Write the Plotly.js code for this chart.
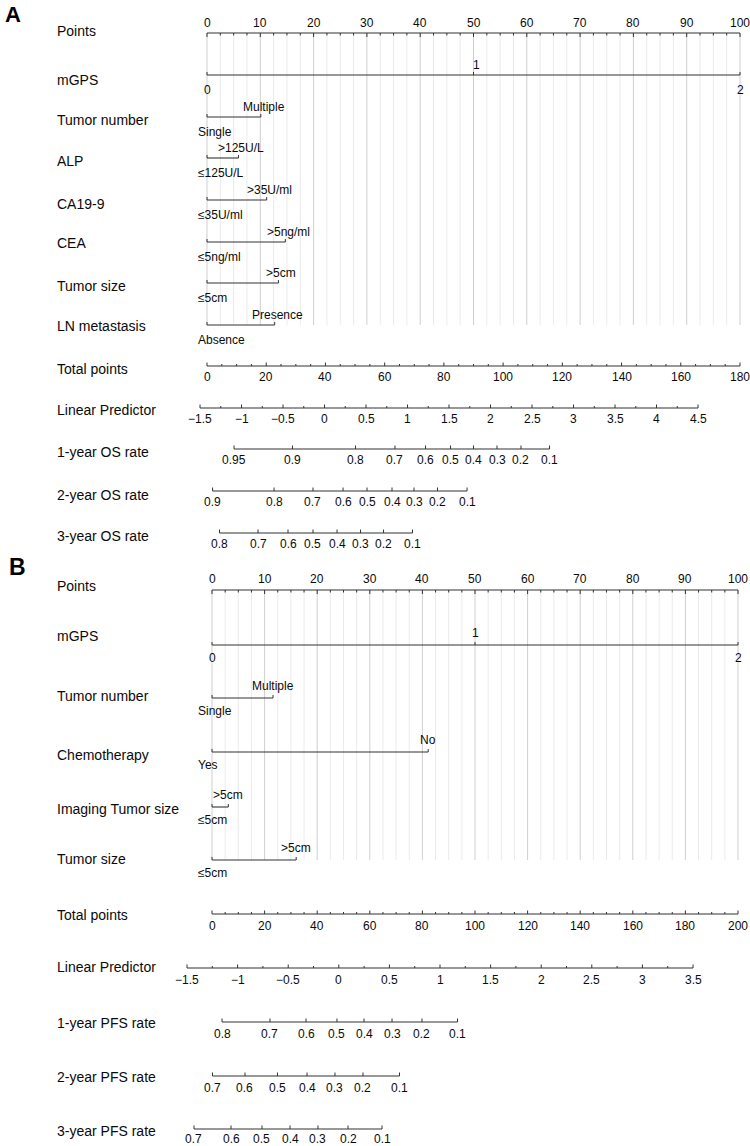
<!DOCTYPE html>
<html><head><meta charset="utf-8">
<script src="https://cdn.plot.ly/plotly-3.0.1.min.js"></script>
<style>html,body{margin:0;padding:0;background:#fff}</style>
</head><body>
<div id="chart" style="width:750px;height:1146px"></div>
<script>
// ================= DATA =================
// ---- Panel A : OS nomogram ----
const pointsTicks = [0,10,20,30,40,50,60,70,80,90,100];
const pointsLabels = ['0','10','20','30','40','50','60','70','80','90','100'];

const mgpsLevels = ['0','1','2'];
const mgpsPointsA = [0,50,100];
const tumorNumberLevels = ['Single','Multiple'];
const tumorNumberPointsA = [0,10.1];
const alpLevels = ['≤125U/L','>125U/L'];
const alpPointsA = [0,5.9];
const ca199Levels = ['≤35U/ml','>35U/ml'];
const ca199PointsA = [0,11.2];
const ceaLevels = ['≤5ng/ml','>5ng/ml'];
const ceaPointsA = [0,14.7];
const tumorSizeLevels = ['≤5cm','>5cm'];
const tumorSizePointsA = [0,13.4];
const lnLevels = ['Absence','Presence'];
const lnPointsA = [0,12.7];

const totalTicksA = [0,20,40,60,80,100,120,140,160,180];
const totalMaxA = 180;
const lpTicksA = [-1.5,-1,-0.5,0,0.5,1,1.5,2,2.5,3,3.5,4,4.5];
const lpLabelsA = ['\u22121.5','\u22121','\u22120.5','0','0.5','1','1.5','2','2.5','3','3.5','4','4.5'];
const lpAtZeroTotalA = -1.416;   // linear predictor at 0 total points
const totalPerLpA = 28.03;       // total points per unit of linear predictor

const os1Labels = ['0.95','0.9','0.8','0.7','0.6','0.5','0.4','0.3','0.2','0.1'];
const os1LpA = [-1.090,-0.386,0.373,0.849,1.217,1.518,1.795,2.078,2.367,2.711];
const os2Labels = ['0.9','0.8','0.7','0.6','0.5','0.4','0.3','0.2','0.1'];
const os2LpA = [-1.349,-0.608,-0.139,0.223,0.512,0.813,1.078,1.361,1.717];
const os3Labels = ['0.8','0.7','0.6','0.5','0.4','0.3','0.2','0.1'];
const os3LpA = [-1.265,-0.801,-0.440,-0.139,0.151,0.434,0.711,1.060];

// ---- Panel B : PFS nomogram ----
const mgpsPointsB = [0,50,100];
const tumorNumberPointsB = [0,11.6];
const chemoLevels = ['Yes','No'];
const chemoPointsB = [0,41.1];
const imagingSizeLevels = ['≤5cm','>5cm'];
const imagingSizePointsB = [0,3.1];
const tumorSizePointsB = [0,16.0];

const totalTicksB = [0,20,40,60,80,100,120,140,160,180,200];
const totalMaxB = 200;
const lpTicksB = [-1.5,-1,-0.5,0,0.5,1,1.5,2,2.5,3,3.5];
const lpLabelsB = ['\u22121.5','\u22121','\u22120.5','0','0.5','1','1.5','2','2.5','3','3.5'];
const lpAtZeroTotalB = -1.253;
const totalPerLpB = 38.48;

const pfs1Labels = ['0.8','0.7','0.6','0.5','0.4','0.3','0.2','0.1'];
const pfs1LpB = [-1.154,-0.680,-0.324,-0.018,0.249,0.526,0.822,1.173];
const pfs2Labels = ['0.7','0.6','0.5','0.4','0.3','0.2','0.1'];
const pfs2LpB = [-1.248,-0.927,-0.606,-0.314,-0.038,0.239,0.600];
const pfs3Labels = ['0.7','0.6','0.5','0.4','0.3','0.2','0.1'];
const pfs3LpB = [-1.431,-1.065,-0.759,-0.482,-0.206,0.091,0.427];

// ================= LAYOUT / STYLE =================
const W = 750, H = 1146;
const FONT = 'Liberation Sans, Arial, Helvetica, sans-serif';
const TXT = '#0a0a0a';
const LINE = '#333333';
const NAME_X = 55 / W;

const traces = [];
const annotations = [];

function seg(o, x0, y0, x1, y1) { o.x.push(x0, x1, null); o.y.push(y0, y1, null); }

function label(xref, x, y, text, dy, opts) {
  opts = opts || {};
  annotations.push({
    xref: xref, yref: 'y', x: x, y: y, text: text, showarrow: false,
    xanchor: opts.xanchor || 'center', yanchor: 'middle',
    xshift: opts.xshift || 0, yshift: -dy,
    font: { family: FONT, size: opts.size || 12, color: TXT }
  });
}

function panel(cfg) {
  const xr = cfg.xref;
  const lines = { x: [], y: [] }, ticks = { x: [], y: [] };
  const gMaj = { x: [], y: [] }, gMin = { x: [], y: [] };
  const toPts = lp => (lp - cfg.lpAtZero) * cfg.totalPerLp * 100 / cfg.totalMax;

  // grid
  for (let p = 0; p <= 100.001; p += 2.5) {
    const major = Math.abs(p / 10 - Math.round(p / 10)) < 1e-6;
    seg(major ? gMaj : gMin, p, cfg.gridTop, p, cfg.gridBottom);
  }

  // Points axis (ticks point down, labels above)
  const yP = cfg.rows.points;
  seg(lines, 0, yP, 100, yP);
  for (let p = 0; p <= 100.001; p += 2.5) {
    const major = pointsTicks.indexOf(p) >= 0;
    seg(ticks, p, yP, p, yP + (major ? 4 : 2.5));
  }
  pointsTicks.forEach((p, i) => label(xr, p, yP, pointsLabels[i], -cfg.pointsDy));

  // predictors
  cfg.preds.forEach(pr => {
    const y = pr.y;
    const mn = Math.min(...pr.pts), mx = Math.max(...pr.pts);
    seg(lines, mn, y, mx, y);
    pr.pts.forEach((p, i) => {
      seg(ticks, p, y, p, y - 3);
      const side = pr.sides[i];
      if (side === 'belowLeft') {
        label(xr, p, y, pr.levels[i], cfg.belowDy, { xanchor: 'left', xshift: cfg.leftShift });
      } else if (side === 'below') {
        label(xr, p, y, pr.levels[i], cfg.belowDy);
      } else {
        label(xr, p, y, pr.levels[i], -cfg.aboveDy, { xshift: cfg.aboveShift });
      }
    });
  });

  // Total points
  const yT = cfg.rows.total;
  seg(lines, 0, yT, 100, yT);
  for (let t = 0; t <= cfg.totalMax + 0.001; t += 5) {
    const major = cfg.totalTicks.indexOf(t) >= 0;
    const p = t * 100 / cfg.totalMax;
    seg(ticks, p, yT, p, yT - (major ? 3.5 : 2));
  }
  cfg.totalTicks.forEach(t => label(xr, t * 100 / cfg.totalMax, yT, String(t), cfg.scaleDy));

  // Linear predictor
  const yL = cfg.rows.lp;
  const lpT = cfg.lpTicks;
  seg(lines, toPts(lpT[0]), yL, toPts(lpT[lpT.length - 1]), yL);
  lpT.forEach((v, i) => {
    seg(ticks, toPts(v), yL, toPts(v), yL - 3.5);
    if (i < lpT.length - 1) {
      const m = toPts((v + lpT[i + 1]) / 2);
      seg(ticks, m, yL, m, yL - 2);
    }
    label(xr, toPts(v), yL, cfg.lpLabels[i], cfg.scaleDy);
  });

  // risk scales
  cfg.risks.forEach(r => {
    const ps = r.lp.map(toPts);
    seg(lines, Math.min(...ps), r.y, Math.max(...ps), r.y);
    ps.forEach((p, i) => {
      seg(ticks, p, r.y, p, r.y - 3.5);
      label(xr, p, r.y, r.labels[i], r.dy || cfg.scaleDy);
    });
  });

  const common = { type: 'scatter', mode: 'lines', xaxis: xr, yaxis: 'y', hoverinfo: 'skip', showlegend: false };
  traces.push(Object.assign({}, common, { x: gMin.x, y: gMin.y, line: { color: '#ebebeb', width: 1 } }));
  traces.push(Object.assign({}, common, { x: gMaj.x, y: gMaj.y, line: { color: '#cfcfcf', width: 1 } }));
  traces.push(Object.assign({}, common, { x: lines.x, y: lines.y, line: { color: LINE, width: 1.1 } }));
  traces.push(Object.assign({}, common, { x: ticks.x, y: ticks.y, line: { color: LINE, width: 1 } }));

  // row names
  cfg.names.forEach(n => annotations.push({
    xref: 'paper', yref: 'y', x: NAME_X, y: n[1], text: n[0], showarrow: false,
    xanchor: 'left', yanchor: 'middle', font: { family: FONT, size: 14, color: TXT }
  }));
}

const bin = ['belowLeft', 'above'];

panel({
  xref: 'x',
  rows: { points: 33, total: 366, lp: 408 },
  gridTop: 33, gridBottom: 325,
  pointsDy: 10, belowDy: 15, aboveDy: 10, leftShift: -11, aboveShift: 3, scaleDy: 11,
  preds: [
    { y: 75,  pts: mgpsPointsA, levels: mgpsLevels, sides: ['below', 'above', 'below'] },
    { y: 117, pts: tumorNumberPointsA, levels: tumorNumberLevels, sides: bin },
    { y: 158, pts: alpPointsA, levels: alpLevels, sides: bin },
    { y: 200, pts: ca199PointsA, levels: ca199Levels, sides: bin },
    { y: 242, pts: ceaPointsA, levels: ceaLevels, sides: bin },
    { y: 283, pts: tumorSizePointsA, levels: tumorSizeLevels, sides: bin },
    { y: 325, pts: lnPointsA, levels: lnLevels, sides: bin }
  ],
  totalTicks: totalTicksA, totalMax: totalMaxA,
  lpTicks: lpTicksA, lpLabels: lpLabelsA, lpAtZero: lpAtZeroTotalA, totalPerLp: totalPerLpA,
  risks: [
    { y: 449, lp: os1LpA, labels: os1Labels },
    { y: 491, lp: os2LpA, labels: os2Labels },
    { y: 533, lp: os3LpA, labels: os3Labels }
  ],
  names: [['Points', 31], ['mGPS', 80], ['Tumor number', 120], ['ALP', 161], ['CA19-9', 204],
          ['CEA', 243], ['Tumor size', 286], ['LN metastasis', 326], ['Total points', 369],
          ['Linear Predictor', 410], ['1-year OS rate', 452], ['2-year OS rate', 495], ['3-year OS rate', 536]]
});

panel({
  xref: 'x2',
  rows: { points: 590, total: 914, lp: 968 },
  gridTop: 590, gridBottom: 860,
  pointsDy: 11, belowDy: 13, aboveDy: 12, leftShift: -16, aboveShift: 0, scaleDy: 12,
  preds: [
    { y: 645, pts: mgpsPointsB, levels: mgpsLevels, sides: ['below', 'above', 'below'] },
    { y: 698, pts: tumorNumberPointsB, levels: tumorNumberLevels, sides: bin },
    { y: 752, pts: chemoPointsB, levels: chemoLevels, sides: bin },
    { y: 807, pts: imagingSizePointsB, levels: imagingSizeLevels, sides: bin },
    { y: 860, pts: tumorSizePointsB, levels: tumorSizeLevels, sides: bin }
  ],
  totalTicks: totalTicksB, totalMax: totalMaxB,
  lpTicks: lpTicksB, lpLabels: lpLabelsB, lpAtZero: lpAtZeroTotalB, totalPerLp: totalPerLpB,
  risks: [
    { y: 1022, lp: pfs1LpB, labels: pfs1Labels },
    { y: 1076, lp: pfs2LpB, labels: pfs2Labels },
    { y: 1129, lp: pfs3LpB, labels: pfs3Labels, dy: 9.5 }
  ],
  names: [['Points', 586], ['mGPS', 636], ['Tumor number', 696], ['Chemotherapy', 755],
          ['Imaging Tumor size', 809], ['Tumor size', 859], ['Total points', 915],
          ['Linear Predictor', 967], ['1-year PFS rate', 1023], ['2-year PFS rate', 1077], ['3-year PFS rate', 1131]]
});

// panel letters
[['A', 3, 14, 22], ['B', 7, 567, 23]].forEach(l => annotations.push({
  xref: 'paper', yref: 'y', x: l[1] / W, y: l[2], text: '<b>' + l[0] + '</b>', showarrow: false,
  xanchor: 'left', yanchor: 'middle', font: { family: FONT, size: l[3], color: '#000' }
}));

const A0 = 207, APP = 5.33, B0 = 212, BPP = 5.26;
const hidden = { visible: false, showgrid: false, zeroline: false, fixedrange: true };
const layout = {
  width: W, height: H,
  margin: { l: 0, r: 0, t: 0, b: 0, pad: 0 },
  paper_bgcolor: '#fff', plot_bgcolor: 'rgba(0,0,0,0)',
  showlegend: false,
  xaxis: Object.assign({}, hidden, { domain: [0, 1], range: [-A0 / APP, (W - A0) / APP], anchor: 'y' }),
  xaxis2: Object.assign({}, hidden, { domain: [0, 1], range: [-B0 / BPP, (W - B0) / BPP], anchor: 'y' }),
  yaxis: Object.assign({}, hidden, { domain: [0, 1], range: [H, 0] }),
  annotations: annotations
};

Plotly.newPlot('chart', traces, layout, { staticPlot: true, displayModeBar: false });
</script>
</body></html>
